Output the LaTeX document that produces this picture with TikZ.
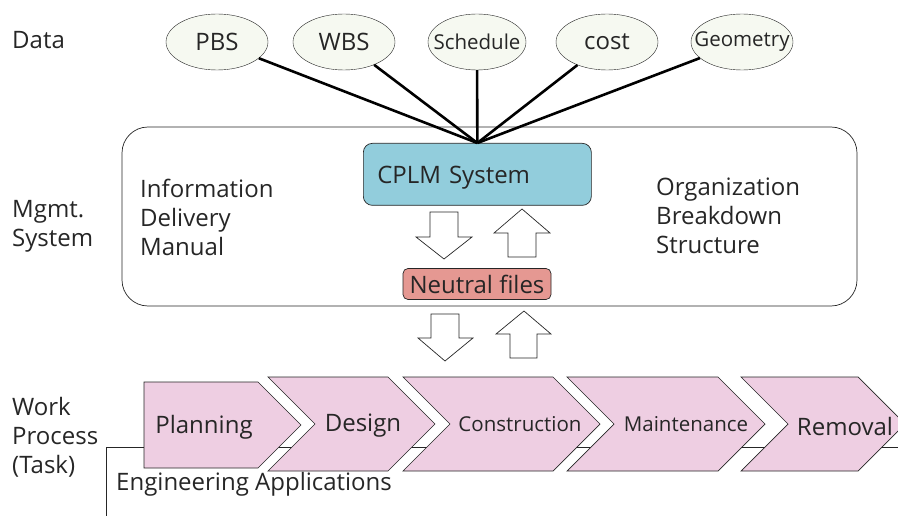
\documentclass[tikz,border=0pt]{standalone}
\usepackage{fontspec}
\setmainfont{Open Sans}
\usepackage{xcolor}
\usetikzlibrary{shapes.geometric}

\definecolor{datafill}{RGB}{246,249,241}
\definecolor{cplmblue}{RGB}{146,205,220}
\definecolor{neutralred}{RGB}{229,152,146}
\definecolor{taskpink}{RGB}{238,206,226}
\definecolor{inkgray}{RGB}{38,38,38}

\tikzset{
    datanode/.style={ellipse, draw=black!85, fill=datafill, minimum width=102, minimum height=56, inner sep=0pt, text=inkgray},
    bigfont/.style={font=\fontsize{24}{29}\selectfont},
    smallfont/.style={font=\fontsize{20.5}{24}\selectfont},
    sidelabel/.style={bigfont, align=left, anchor=west, inner sep=0pt, text=inkgray},
    feed/.style={line width=2.6pt, black},
    blockarrow/.style={draw=black!85, fill=white, line width=0.7pt},
    taskstep/.style={draw=black!85, fill=taskpink, line width=0.7pt},
}

\begin{document}
\begin{tikzpicture}[x=1pt, y=-1pt]
    \useasboundingbox (0,0) rectangle (898,516);

    % left labels
    \node[sidelabel] (lbldata) at (12,40) {Data};
    \node[sidelabel] (lblmgmt) at (12,226) {Mgmt.\\System};
    \node[sidelabel] (lblwork) at (12,437) {Work\\Process\\(Task)};

    % data sources
    \node[datanode, bigfont] (pbs) at (217,42) {PBS};
    \node[datanode, bigfont] (wbs) at (344,42) {WBS};
    \node[datanode, smallfont, minimum width=98, inner xsep=-14] (sched) at (477,42) {Schedule};
    \node[datanode, bigfont] (cost) at (607,42) {cost};
    \node[datanode, smallfont, inner xsep=-14] (geom) at (742,42) {Geometry};

    % management system frame
    \draw[black!85, line width=0.7pt, rounded corners=26] (122,127) rectangle (857,306);

    \node[sidelabel] (idm) at (140,217) {Information\\Delivery\\Manual};
    \node[sidelabel] (obs) at (656,216) {Organization\\Breakdown\\Structure};

    \node[draw=black!85, fill=cplmblue, rounded corners=9, line width=0.7pt,
          text width=200, inner xsep=14, align=left, minimum height=62, text depth=0pt,
          anchor=north west, bigfont, text=inkgray] (cplm) at (363,143) {CPLM System};

    \node[draw=black!85, fill=neutralred, rounded corners=5, line width=0.7pt,
          minimum width=148, minimum height=31, inner sep=0pt,
          bigfont, text=inkgray] (neutral) at (477,284) {Neutral files};

    \draw[feed] (pbs) -- (cplm.north);
    \draw[feed] (wbs) -- (cplm.north);
    \draw[feed] (sched) -- (cplm.north);
    \draw[feed] (cost) -- (cplm.north);
    \draw[feed] (geom) -- (cplm.north);

    % exchange arrows
    \draw[blockarrow] (430,212) -- (458,212) -- (458,237) -- (472,237) -- (444,259) -- (416,237) -- (430,237) -- cycle;
    \draw[blockarrow] (508,257) -- (536,257) -- (536,233) -- (550,233) -- (522,209) -- (494,233) -- (508,233) -- cycle;
    \draw[blockarrow] (431,314) -- (459,314) -- (459,338) -- (473,338) -- (445,361) -- (418,338) -- (431,338) -- cycle;
    \draw[blockarrow] (510,358) -- (537,358) -- (537,334) -- (551,334) -- (524,311) -- (496,334) -- (510,334) -- cycle;

    % engineering applications frame
    \draw[black!85, line width=0.7pt] (106,516) -- (106,447) -- (898,447);
    \node[sidelabel] (engapp) at (116,484) {Engineering Applications};

    % work process steps
    \draw[taskstep] (144,382) -- (258,382) -- (301,425) -- (258,468) -- (144,468) -- cycle;
    \draw[taskstep] (268,377) -- (388,377) -- (435,424) -- (388,471) -- (268,471) -- (315,424) -- cycle;
    \draw[taskstep] (403,377) -- (553,377) -- (600,424) -- (553,471) -- (403,471) -- (450,424) -- cycle;
    \draw[taskstep] (567,377) -- (718,377) -- (765,424) -- (718,471) -- (567,471) -- (614,424) -- cycle;
    \draw[taskstep] (741,377) -- (858,377) -- (905,424) -- (858,471) -- (741,471) -- (788,424) -- cycle;

    \node[bigfont, text=inkgray] (planning) at (204,427) {Planning};
    \node[bigfont, text=inkgray] (design) at (363,426) {Design};
    \node[smallfont, text=inkgray] (construction) at (520,424) {Construction};
    \node[smallfont, text=inkgray] (maintenance) at (686,424) {Maintenance};
    \node[bigfont, text=inkgray] (removal) at (845,426) {Removal};
\end{tikzpicture}
\end{document}
